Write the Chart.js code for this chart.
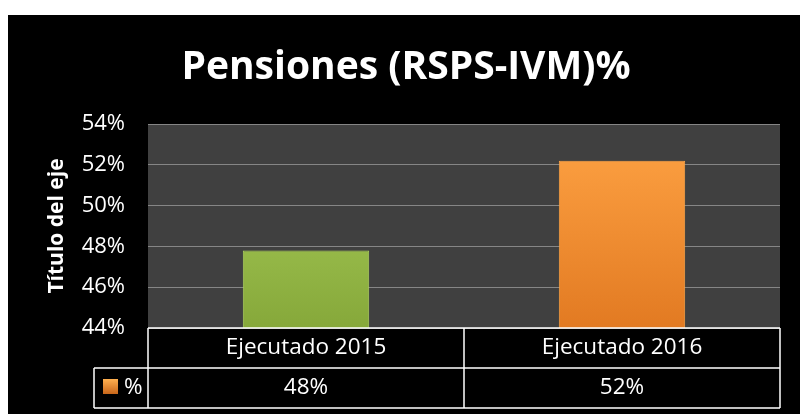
<!DOCTYPE html>
<html>
<head>
<meta charset="utf-8">
<script src="https://cdn.jsdelivr.net/npm/chart.js@4.4.0/dist/chart.umd.min.js"></script>
<style>
    html, body { margin: 0; background: #ffffff; }
    #panel { position: absolute; left: 8px; top: 15px; width: 792px; height: 399px; background: #000000; }
</style>
</head>
<body>
<div id="panel"><canvas id="pensionesChart" width="792" height="399"></canvas></div>
<script>
var chartTitle = 'Pensiones (RSPS-IVM)%';
var axisTitle = 'Título del eje';
var categories = ['Ejecutado 2015', 'Ejecutado 2016'];
var seriesName = '%';
var values = [47.8, 52.2];
var yTicks = [44, 46, 48, 50, 52, 54];

var fontFamily = '"Open Sans", sans-serif';
var barTops = ['#aed35e', '#ffa445'];
var barBottoms = ['#86a83a', '#e27a22'];

function barGradient(context) {
    var area = context.chart.chartArea;
    if (!area) return barBottoms[context.dataIndex];
    var g = context.chart.ctx.createLinearGradient(0, area.top, 0, area.bottom);
    g.addColorStop(0, barTops[context.dataIndex]);
    g.addColorStop(1, barBottoms[context.dataIndex]);
    return g;
}

var plotBackground = {
    id: 'plotBackground',
    beforeDraw: function (chart) {
        var a = chart.chartArea;
        chart.ctx.save();
        chart.ctx.fillStyle = '#404040';
        chart.ctx.fillRect(a.left, a.top, a.right - a.left, a.bottom - a.top);
        chart.ctx.restore();
    }
};

var titleText = {
    id: 'titleText',
    afterDraw: function (chart) {
        var ctx = chart.ctx;
        ctx.save();
        ctx.fillStyle = '#ffffff';
        ctx.font = 'bold 39px ' + fontFamily;
        ctx.textAlign = 'center';
        ctx.textBaseline = 'alphabetic';
        ctx.fillText(chartTitle, chart.width / 2 + 2, 64);
        ctx.restore();
    }
};

// data table under the plot, Excel style
var dataTable = {
    id: 'dataTable',
    afterDraw: function (chart) {
        var ctx = chart.ctx;
        var a = chart.chartArea;
        var x = chart.scales.x;
        var rowH = 40;
        var labelLeft = 86;
        var top = a.bottom, mid = a.bottom + rowH, bottom = a.bottom + rowH * 2;
        var cols = [a.left];
        for (var i = 0; i < categories.length - 1; i++) {
            cols.push((x.getPixelForValue(i) + x.getPixelForValue(i + 1)) / 2);
        }
        cols.push(a.right);

        ctx.save();
        ctx.strokeStyle = '#ffffff';
        ctx.lineWidth = 1.5;
        ctx.beginPath();
        ctx.moveTo(a.left, top); ctx.lineTo(a.right, top);
        ctx.moveTo(labelLeft, mid); ctx.lineTo(a.right, mid);
        ctx.moveTo(labelLeft, bottom); ctx.lineTo(a.right, bottom);
        ctx.moveTo(labelLeft, mid); ctx.lineTo(labelLeft, bottom);
        cols.forEach(function (c) { ctx.moveTo(c, top); ctx.lineTo(c, bottom); });
        ctx.stroke();

        ctx.fillStyle = '#ffffff';
        ctx.font = '22.5px ' + fontFamily;
        ctx.textAlign = 'center';
        ctx.textBaseline = 'middle';
        categories.forEach(function (cat, i) {
            ctx.fillText(cat, x.getPixelForValue(i), (top + mid) / 2);
            ctx.fillText(Math.round(values[i]) + '%', x.getPixelForValue(i), (mid + bottom) / 2);
        });

        // legend key
        var g = ctx.createLinearGradient(0, mid + 11, 0, mid + 26);
        g.addColorStop(0, '#ffb050');
        g.addColorStop(1, '#c8661a');
        ctx.fillStyle = g;
        ctx.fillRect(95, mid + 11, 15, 15);
        ctx.fillStyle = '#ffffff';
        ctx.textAlign = 'left';
        ctx.fillText(seriesName, 116, (mid + bottom) / 2);
        ctx.restore();
    }
};

new Chart(document.getElementById('pensionesChart'), {
    type: 'bar',
    data: {
        labels: categories,
        datasets: [{
            label: seriesName,
            data: values,
            backgroundColor: barGradient,
            borderColor: barTops,
            borderWidth: 1,
            barPercentage: 0.4,
            categoryPercentage: 1
        }]
    },
    options: {
        responsive: false,
        animation: false,
        layout: {
            padding: { top: 109, right: 20, bottom: 86, left: 0 }
        },
        plugins: {
            legend: { display: false },
            title: { display: false },
            tooltip: { enabled: false }
        },
        scales: {
            x: {
                display: false
            },
            y: {
                min: yTicks[0],
                max: yTicks[yTicks.length - 1],
                afterFit: function (scale) { scale.width = 140; },
                grid: {
                    color: '#868686',
                    lineWidth: 1,
                    drawTicks: false
                },
                border: { display: false },
                ticks: {
                    stepSize: yTicks[1] - yTicks[0],
                    padding: 23,
                    color: '#ffffff',
                    font: { family: fontFamily, size: 22 },
                    callback: function (v) { return v + '%'; }
                },
                title: {
                    display: true,
                    text: axisTitle,
                    color: '#ffffff',
                    font: { family: fontFamily, size: 21, weight: 'bold' },
                    padding: { top: 36, bottom: 0 }
                }
            }
        }
    },
    plugins: [plotBackground, titleText, dataTable]
});
</script>
</body>
</html>
